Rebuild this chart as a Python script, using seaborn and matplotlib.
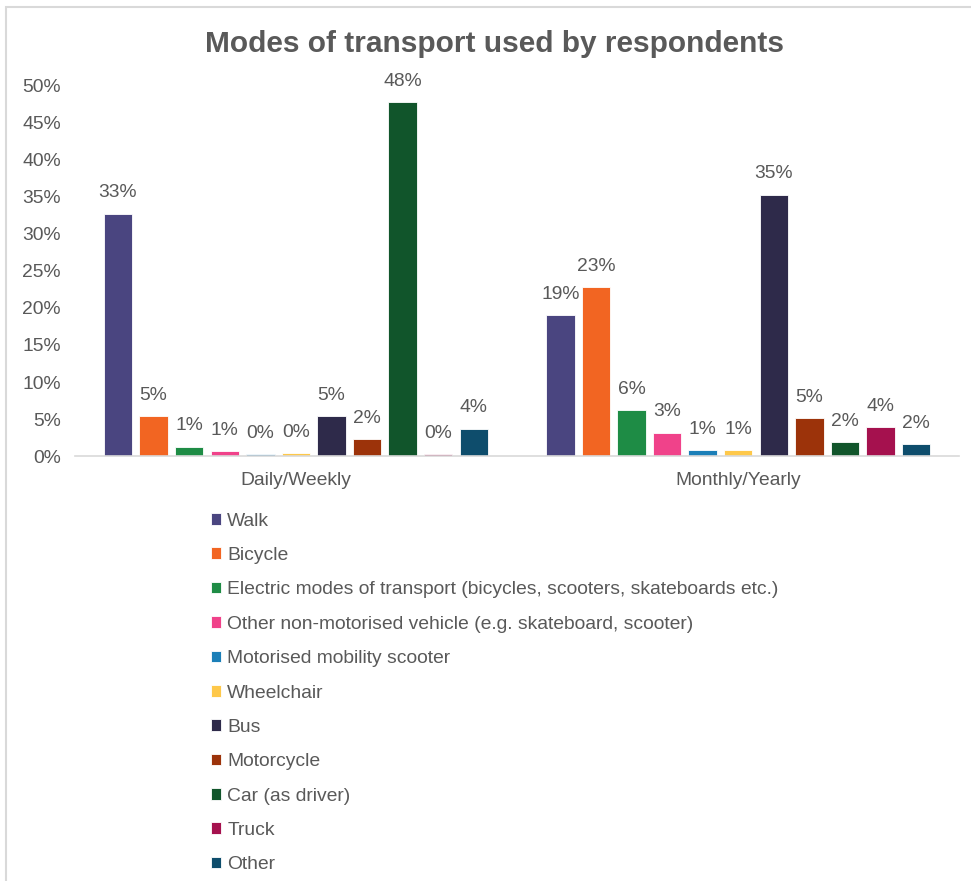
import matplotlib
matplotlib.use("Agg")
import matplotlib.pyplot as plt
from matplotlib.patches import Rectangle
import seaborn as sns
import pandas as pd

# values (percent of respondents)
periods = ["Daily/Weekly", "Monthly/Yearly"]
modes = ["Walk", "Bicycle",
         "Electric modes of transport (bicycles, scooters, skateboards etc.)",
         "Other non-motorised vehicle (e.g. skateboard, scooter)",
         "Motorised mobility scooter", "Wheelchair", "Bus", "Motorcycle",
         "Car (as driver)", "Truck", "Other"]
daily_weekly = [32.7, 5.4, 1.3, 0.7, 0.3, 0.4, 5.4, 2.3, 47.7, 0.3, 3.7]
monthly_yearly = [19.0, 22.8, 6.2, 3.2, 0.8, 0.8, 35.2, 5.1, 1.9, 3.9, 1.6]
colors = ["#4a4580", "#f26522", "#1e8c45", "#f0428a", "#1b7fb8", "#fec84a",
          "#2e2a4a", "#9c330a", "#11552b", "#a5114e", "#0e4d6c"]

df = pd.DataFrame({
    "period": [periods[0]] * len(modes) + [periods[1]] * len(modes),
    "mode": modes + modes,
    "value": daily_weekly + monthly_yearly,
})

sns.set_style("white")
plt.rcParams["font.family"] = ["Liberation Sans", "DejaVu Sans"]
grey = "#595959"
fs = 13.9

fig = plt.figure(figsize=(9.71, 8.81), dpi=100)
ax = fig.add_axes([0.077, 0.482, 0.911, 0.4215])

sns.barplot(data=df, x="period", y="value", hue="mode", hue_order=modes,
            palette=colors, order=periods, width=0.885, gap=0.2,
            saturation=1, errorbar=None, edgecolor="white", linewidth=0.6,
            ax=ax)

for cont, mode in zip(ax.containers, modes):
    vals = df[df["mode"] == mode]["value"].tolist()
    ax.bar_label(cont, labels=[f"{v:.0f}%" for v in vals], padding=9,
                 fontsize=fs, color=grey)

ax.set_ylim(0, 50)
ax.set_yticks(range(0, 51, 5))
ax.set_yticklabels([f"{t}%" for t in range(0, 51, 5)])
ax.tick_params(axis="both", length=0, labelsize=fs, labelcolor=grey)
ax.tick_params(axis="y", pad=10)
ax.tick_params(axis="x", pad=11)
ax.set_xlabel("")
ax.set_ylabel("")
for s in ["top", "right", "left"]:
    ax.spines[s].set_visible(False)
ax.spines["bottom"].set_color("#d9d9d9")
ax.spines["bottom"].set_linewidth(1.2)

fig.suptitle("Modes of transport used by respondents", x=0.509, y=0.950,
             fontsize=21.5, fontweight="bold", color=grey, va="center")

handles, labels = ax.get_legend_handles_labels()
ax.legend(handles, labels, loc="upper left", frameon=False,
          bbox_to_anchor=(203 / 971, 1 - 505 / 881),
          bbox_transform=fig.transFigure, ncol=1, fontsize=fs,
          labelcolor=grey, handlelength=0.55, handleheight=0.55,
          handletextpad=0.3, labelspacing=0.9, borderaxespad=0)

fig.patches.append(Rectangle((6 / 971, -0.1), 1.2, 1.1 - 7 / 881,
                             transform=fig.transFigure, fill=False,
                             edgecolor="#d9d9d9", linewidth=1.5))

fig.savefig("out.png", dpi=100, facecolor="white")
